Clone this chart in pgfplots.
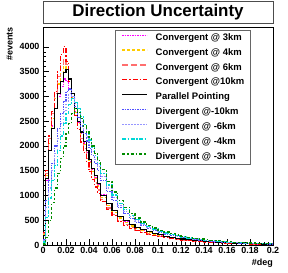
\documentclass[border=0pt]{standalone}
\usepackage{pgfplots}
\pgfplotsset{compat=1.18}
\usepackage{pgfplotstable}
\usepackage{fontspec}
\setmainfont{Liberation Sans}
\definecolor{cMag}{RGB}{255,0,255}
\definecolor{cYel}{RGB}{255,204,0}
\definecolor{cSal}{RGB}{255,110,110}
\definecolor{cRed}{RGB}{255,0,0}
\definecolor{cBlu}{RGB}{80,80,255}
\definecolor{cVio}{RGB}{150,150,255}
\definecolor{cCya}{RGB}{0,215,215}
\definecolor{cGre}{RGB}{0,140,0}
\pgfplotstableread{
x       c3    c4    c6    c10   par   d10   d6    d4    d3
0       200   220   230   250   200   100   80    60    20
0.0025  1300  1400  1450  1500  1350  900   750   550   150
0.005   1900  2050  2150  2200  1900  1300  1150  950   500
0.0075  2400  2550  2650  2700  2350  1650  1500  1300  850
0.01    2750  2950  3050  3100  2750  2000  1850  1600  1150
0.0125  3000  3250  3400  3500  3050  2350  2150  1900  1450
0.015   3200  3450  3650  3850  3300  2650  2450  2200  1750
0.0175  3350  3600  3750  4000  3480  2900  2700  2450  2000
0.02    3300  3550  3650  3700  3550  3100  2900  2650  2250
0.0225  3150  3300  3300  3300  3350  3150  3050  2830  2450
0.025   2950  2980  2950  2950  3050  3000  3000  2950  2650
0.0275  2700  2670  2620  2620  2750  2800  2850  2880  2750
0.03    2480  2450  2380  2330  2500  2580  2680  2750  2680
0.0325  2260  2230  2150  2080  2280  2400  2500  2600  2550
0.035   2060  2030  1940  1860  2080  2250  2340  2440  2400
0.0375  1870  1840  1740  1660  1900  2100  2180  2280  2280
0.04    1690  1660  1560  1480  1720  1950  2030  2120  2150
0.0425  1520  1490  1400  1320  1550  1800  1880  1960  2000
0.045   1370  1340  1250  1170  1400  1650  1730  1800  1850
0.0475  1220  1190  1110  1040  1250  1500  1580  1650  1700
0.05    1010  960   920   880   1000  1300  1380  1450  1520
0.055   845   800   745   720   840   1080  1150  1210  1280
0.06    700   660   610   590   700   900   960   1010  1070
0.065   580   545   500   480   580   750   800   845   900
0.07    485   455   415   400   490   630   670   710   760
0.075   410   385   350   340   415   535   570   600   640
0.08    350   330   300   290   355   455   485   510   545
0.085   302   285   258   250   305   390   415   437   465
0.09    262   247   224   218   265   335   357   375   400
0.095   228   215   196   190   230   290   308   323   345
0.1     200   190   172   168   205   252   268   280   300
0.105   175   166   150   148   180   220   234   244   262
0.11    154   146   131   130   158   192   204   213   230
0.115   134   128   115   114   138   168   178   186   202
0.12    117   112   101   100   121   147   156   162   177
0.125   103   98    88    88    106   129   137   142   155
0.13    90    86    77    77    93    113   120   124   137
0.135   79    76    68    68    82    99    105   109   120
0.14    70    67    60    59    72    87    92    96    106
0.145   61    59    52    52    63    77    81    84    94
0.15    54    52    46    45    56    68    72    74    83
0.155   47    45    40    39    49    60    63    65    73
0.16    41    40    35    34    43    53    56    57    65
0.165   36    35    31    30    38    47    49    50    58
0.17    32    31    27    26    34    41    43    44    51
0.175   28    27    24    23    30    36    38    39    45
0.18    25    24    21    20    26    32    34    35    40
0.185   22    21    19    18    23    28    30    31    36
0.19    20    19    17    16    20    25    27    27    32
0.195   18    17    15    14    18    22    24    24    28
0.2     18    17    15    14    18    22    24    24    28
}\data
\begin{document}
\begin{tikzpicture}
\useasboundingbox (-43bp,-28bp) rectangle (245bp,245bp);
\begin{axis}[
  at={(0,0)}, anchor=south west,
  width=230bp, height=218bp, scale only axis,
  xmin=0, xmax=0.2, ymin=0, ymax=4400,
  xtick={0,0.02,0.04,0.06,0.08,0.1,0.12,0.14,0.16,0.18,0.2},
  xticklabels={0,0.02,0.04,0.06,0.08,0.1,0.12,0.14,0.16,0.18,0.2},
  ytick={0,500,1000,1500,2000,2500,3000,3500,4000},
  yticklabels={0,500,1000,1500,2000,2500,3000,3500,4000},
  minor x tick num=4, minor y tick num=4,
  tick align=inside, xtick pos=bottom, ytick pos=left,
  major tick length=6bp, minor tick length=3bp,
  tick style={black, line width=0.5bp},
  tick label style={font=\bfseries\fontsize{9}{10}\selectfont},
  xticklabel style={yshift=1bp},
  axis line style={black, line width=0.6bp},
  legend cell align=left,
  legend image code/.code={\draw[#1, line width=1.4bp] (0bp,3bp) -- (25bp,3bp); \path (33bp,3bp);},
  legend style={at={(rel axis cs:0.313,0.986)}, anchor=north west,
    draw=black!60, line width=0.8bp, fill=white,
    font=\bfseries\fontsize{9.5}{10}\selectfont,
    nodes={inner sep=0pt, text height=7bp, text depth=2.5bp},
    row sep=5.34bp, column sep=0bp, inner xsep=6bp, inner ysep=3bp},
]
\addplot[const plot, color=cMag, line width=1.2bp, dash pattern=on 1.5bp off 1bp] table[x=x,y=c3]{\data};
\addlegendentry{Convergent @ 3km}
\addplot[const plot, color=cYel, line width=1.2bp, dash pattern=on 3bp off 2bp] table[x=x,y=c4]{\data};
\addlegendentry{Convergent @ 4km}
\addplot[const plot, color=cSal, line width=1.2bp, dash pattern=on 6bp off 3bp] table[x=x,y=c6]{\data};
\addlegendentry{Convergent @ 6km}
\addplot[const plot, color=cRed, line width=1.2bp, dash pattern=on 5bp off 2bp on 1.5bp off 2bp] table[x=x,y=c10]{\data};
\addlegendentry{Convergent @10km}
\addplot[const plot, color=black, line width=1.1bp] table[x=x,y=par]{\data};
\addlegendentry{Parallel Pointing}
\addplot[const plot, color=cBlu, line width=1.2bp, dash pattern=on 1.5bp off 1bp] table[x=x,y=d10]{\data};
\addlegendentry{Divergent @-10km}
\addplot[const plot, color=cVio, line width=1.2bp, dash pattern=on 1.5bp off 1.5bp] table[x=x,y=d6]{\data};
\addlegendentry{Divergent @ -6km}
\addplot[const plot, color=cCya, line width=1.2bp, dash pattern=on 4bp off 1.5bp on 1.5bp off 1.5bp] table[x=x,y=d4]{\data};
\addlegendentry{Divergent @ -4km}
\addplot[const plot, color=cGre, line width=1.2bp, dash pattern=on 3bp off 2bp on 1.5bp off 2bp] table[x=x,y=d3]{\data};
\addlegendentry{Divergent @ -3km}
\end{axis}
\node[draw=black!70, line width=0.8bp, minimum width=230bp, minimum height=22bp, inner sep=0pt, anchor=south,
  font=\bfseries\fontsize{17}{19}\selectfont] at (115bp,221bp) {Direction Uncertainty};
\node[rotate=90, anchor=south east, inner sep=0pt, font=\bfseries\fontsize{9}{10}\selectfont] at (-30bp,218bp) {\#events};
\node[anchor=north east, inner sep=0pt, font=\bfseries\fontsize{9}{10}\selectfont] at (230bp,-14bp) {\#deg};
\end{tikzpicture}
\end{document}
